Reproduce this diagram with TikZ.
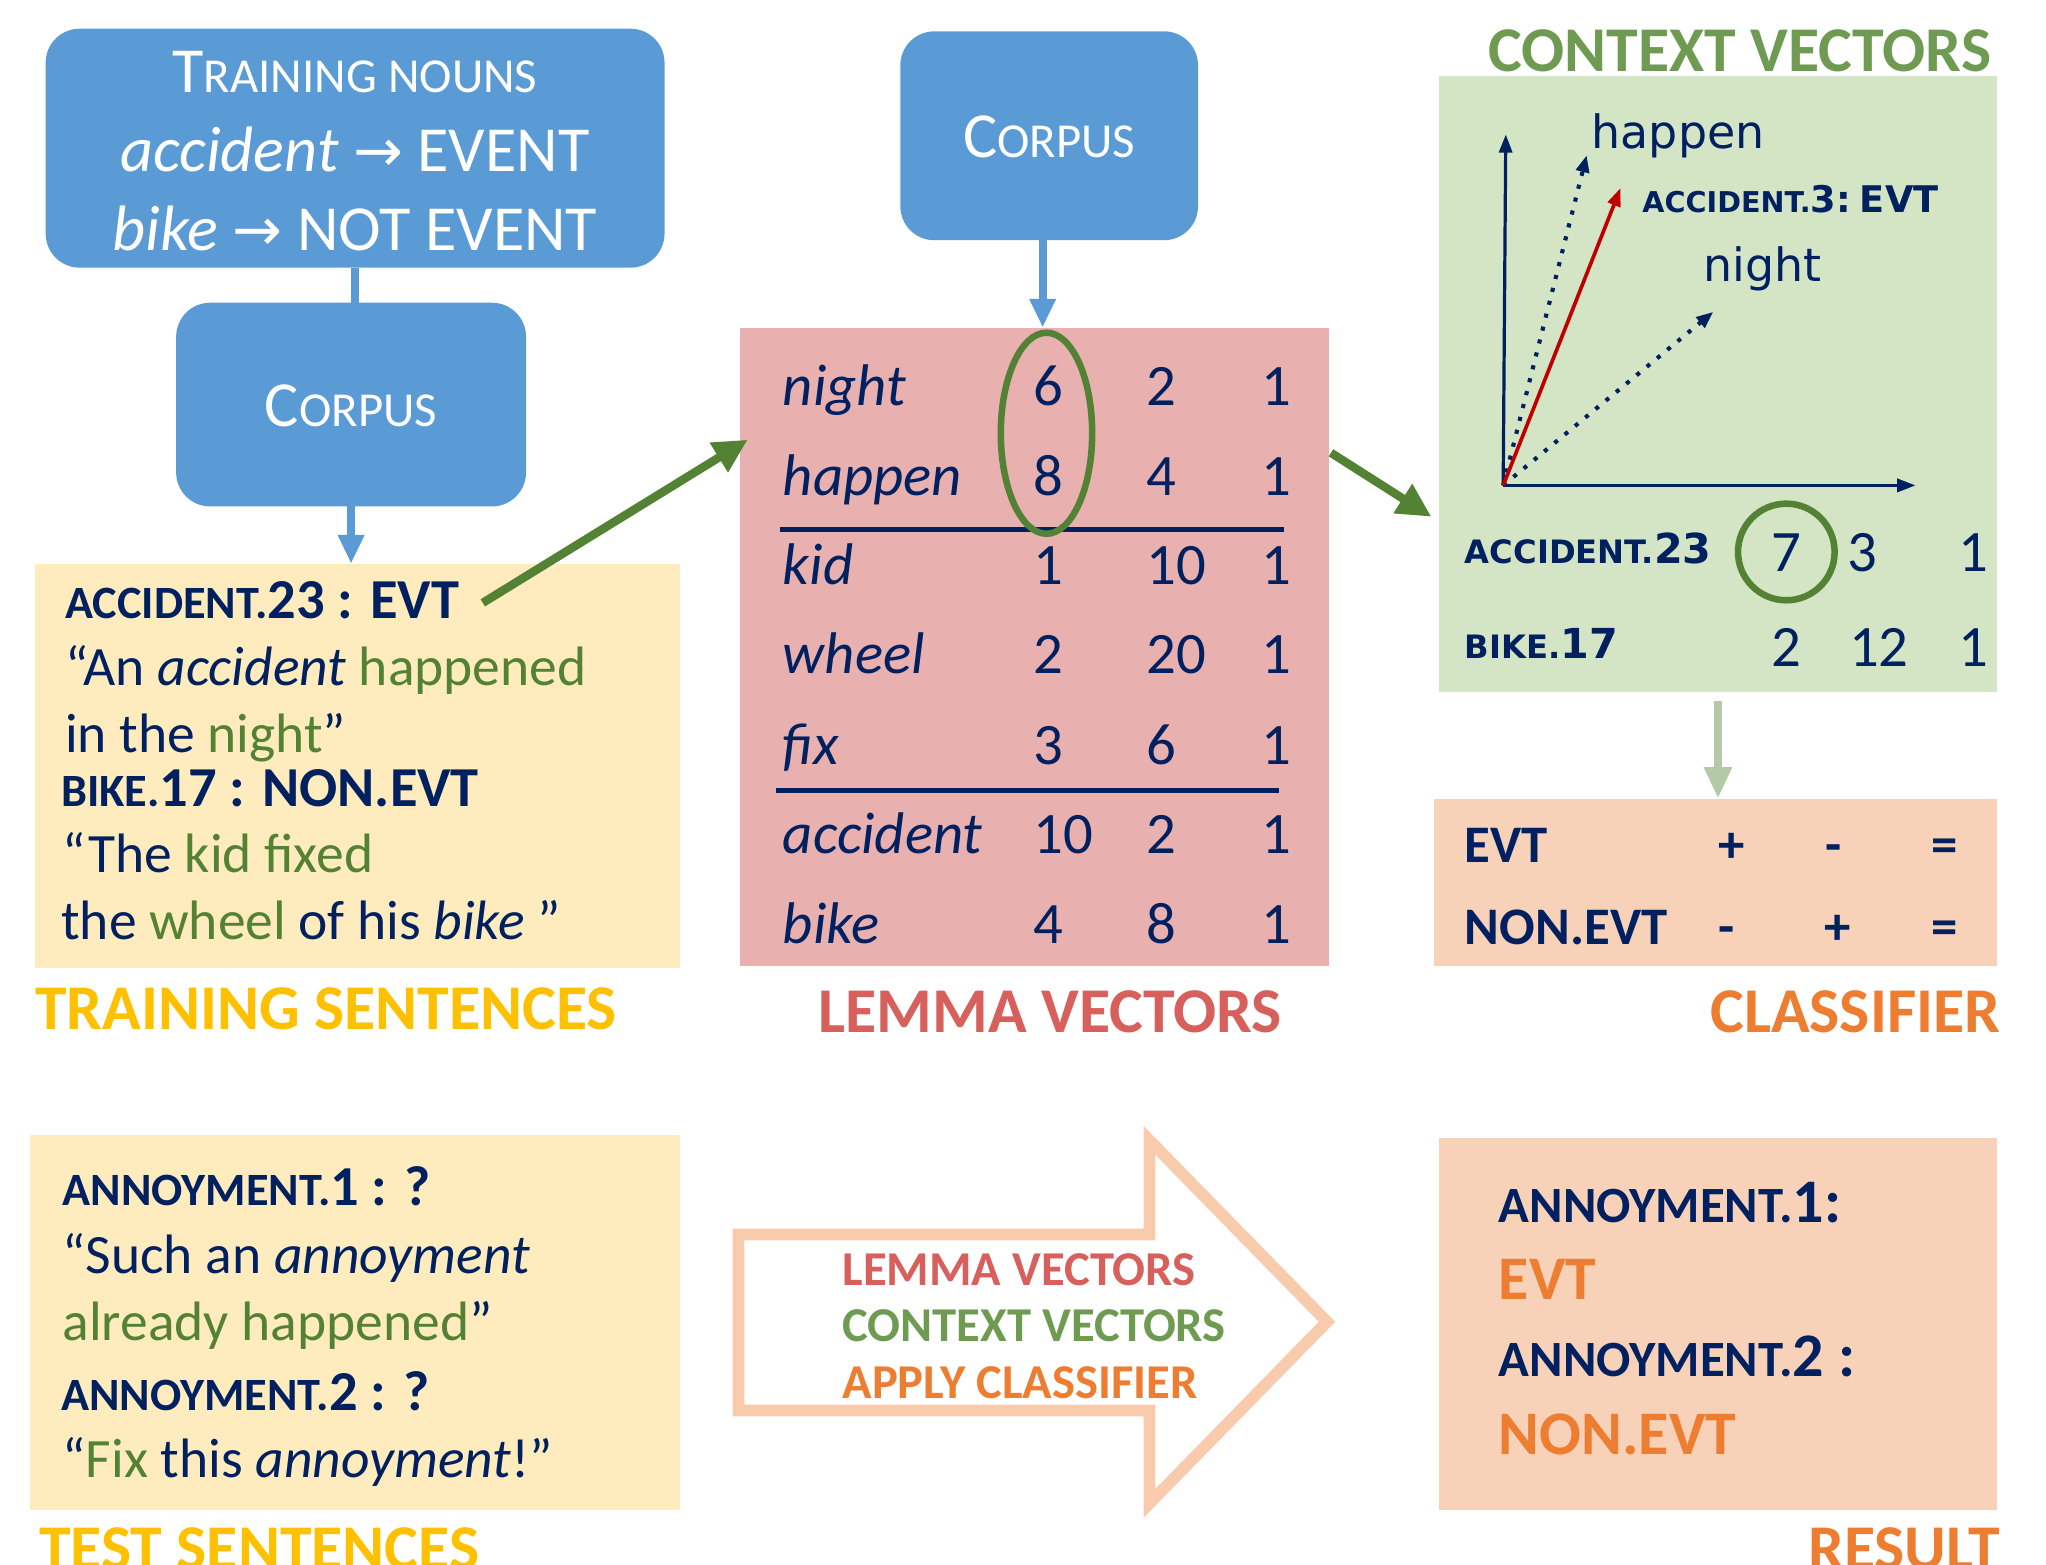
\documentclass[tikz,border=0pt]{standalone}
\usepackage{fontspec}
\usepackage{graphicx}
\setmainfont{Carlito}
\newfontfamily\dvs{DejaVu Sans}
\usetikzlibrary{arrows.meta}

\definecolor{boxblue}{HTML}{5B9BD5}
\definecolor{navy}{HTML}{002060}
\definecolor{tgreen}{HTML}{548235}
\definecolor{gold}{HTML}{FFC000}
\definecolor{lemred}{HTML}{D75F5C}
\definecolor{ctxgreen}{HTML}{6E9B51}
\definecolor{orangetxt}{HTML}{ED7D31}
\definecolor{yellowbox}{HTML}{FEEBBE}
\definecolor{pinkbox}{HTML}{E8B1B0}
\definecolor{greenbox}{HTML}{D4E5C6}
\definecolor{peachbox}{HTML}{F7D2B9}
\definecolor{arrowpeach}{HTML}{F8CBAD}
\definecolor{palearrow}{HTML}{B4C9A5}
\definecolor{redvec}{HTML}{C00000}

% small capitals made from scaled-down capitals
\newcommand\smc[1]{\scalebox{0.82}{#1}}
\newcommand\smt[1]{\scalebox{0.76}{#1}}

\begin{document}
\begin{tikzpicture}[
  x=0.01cm, y=-0.01cm,
  panel/.style={inner sep=0, outer sep=0, anchor=north west, draw=none},
  bluebox/.style={panel, fill=boxblue, rounded corners=0.26cm},
  txt/.style={inner sep=0, outer sep=0, anchor=base west, text=navy},
  body/.style={txt, font=\fontsize{12.1}{15}\selectfont},
  bodyb/.style={txt, font=\fontsize{12.3}{15}\selectfont\bfseries},
  lemtxt/.style={inner sep=0, outer sep=0, text=navy, font=\fontsize{12.8}{15}\selectfont},
  heading/.style={inner sep=0, outer sep=0, font=\fontsize{13.9}{16}\selectfont\bfseries},
  bluelink/.style={draw=boxblue, line width=0.06cm},
  bluearrow/.style={draw=boxblue, line width=0.06cm, -{Triangle[length=0.22cm, width=0.19cm]}},
  greenarrow/.style={draw=tgreen, line width=0.065cm, -{Triangle[length=0.26cm, width=0.25cm]}},
  palearrow/.style={draw=palearrow, line width=0.06cm, -{Triangle[length=0.24cm, width=0.2cm]}},
  axis/.style={draw=navy, line width=0.7pt, -{Triangle[length=0.14cm, width=0.1cm]}},
  dotvec/.style={draw=navy, line width=0.9pt, dotted, -{Triangle[length=0.13cm, width=0.1cm]}},
  redarrow/.style={draw=redvec, line width=0.8pt, -{Triangle[length=0.14cm, width=0.1cm]}},
  ring/.style={draw=tgreen, line width=0.05cm},
  rule/.style={draw=navy, line width=1pt},
]
\useasboundingbox (0,0) rectangle (1568,1199);

% ---------- training nouns and first corpus ----------
\node[bluebox, minimum width=4.74cm, minimum height=1.83cm] (tn) at (35,22) {};
\node[inner sep=0, text=white, align=center, font=\fontsize{14}{17.2}\selectfont] (tntext) at (272,116)
  {T\smt{RAINING NOUNS}\\ \textit{accident} {\dvs\fontsize{13}{15}\selectfont →} EVENT\\ \textit{bike} {\dvs\fontsize{13}{15}\selectfont →} NOT EVENT};

\node[bluebox, minimum width=2.68cm, minimum height=1.56cm] (c1) at (135,232) {};
\node[inner sep=0, text=white, font=\fontsize{14}{17}\selectfont] (c1text) at (269,311) {C\smt{ORPUS}};

% ---------- training sentences ----------
\node[panel, fill=yellowbox, minimum width=4.94cm, minimum height=3.10cm] (tr) at (27,432) {};
\node[bodyb] (tr1) at (50,474) {\smc{ACCIDENT.}23 : EVT};
\node[body] (tr2) at (50,525) {“An \textit{accident} \textcolor{tgreen}{happened}};
\node[body] (tr3) at (50,577) {in the \textcolor{tgreen}{night}”};
\node[bodyb] (tr4) at (47,618) {\smc{BIKE.}17 : NON.EVT};
\node[body] (tr5) at (48,669) {“The \textcolor{tgreen}{kid fixed}};
\node[body] (tr6) at (47,720) {the \textcolor{tgreen}{wheel} of his \textit{bike} ”};
\node[heading, text=gold, anchor=base west] (trtitle) at (27,789) {TRAINING SENTENCES};

\draw[bluelink] (tn.south) -- (tn.south |- c1.north);
\draw[bluearrow] (c1.south) -- (c1.south |- tr.north);

% ---------- second corpus and lemma vectors ----------
\node[bluebox, minimum width=2.28cm, minimum height=1.60cm] (c2) at (690,24) {};
\node[inner sep=0, text=white, font=\fontsize{14}{17}\selectfont] (c2text) at (804,105) {C\smt{ORPUS}};

\node[panel, fill=pinkbox, minimum width=4.51cm, minimum height=4.89cm] (lem) at (567,251) {};
\draw[bluearrow] ([xshift=-0.05cm]c2.south) -- ([xshift=-0.05cm]c2.south |- lem.north);

\foreach \w/\a/\b/\c/\yy [count=\i] in {night/6/2/1/311, happen/8/4/1/380, kid/1/10/1/448, wheel/2/20/1/516, fix/3/6/1/586, accident/10/2/1/654, bike/4/8/1/723}{
  \node[lemtxt, anchor=base west] (lw\i) at (600,\yy) {\textit{\w}};
  \node[lemtxt, anchor=base west] (la\i) at (792,\yy) {\a};
  \node[lemtxt, anchor=base west] (lb\i) at (879,\yy) {\b};
  \node[lemtxt, anchor=base west] (lc\i) at (967,\yy) {\c};
}
\draw[rule] (598,406) -- (984,406);
\draw[rule] (595,606) -- (980,606);
\draw[ring] (802,332) ellipse [x radius=0.35cm, y radius=0.77cm];
\node[heading, text=lemred, anchor=base] (lemtitle) at (805,791) {LEMMA VECTORS};

\coordinate (g1s) at (370,462);
\coordinate (g1e) at (573,337);
\draw[greenarrow] (g1s) -- (g1e);

% ---------- context vectors ----------
\node[panel, fill=greenbox, minimum width=4.27cm, minimum height=4.72cm] (ctx) at (1103,58) {};
\node[heading, text=ctxgreen, anchor=base east] (ctxtitle) at (1526,55) {CONTEXT VECTORS};

\coordinate (o) at (1152,372);
\coordinate (yend) at (1154,103);
\coordinate (xend) at (1468,372);
\coordinate (vhap) at (1216,119);
\coordinate (vacc) at (1242,144);
\coordinate (vnig) at (1313,239);
\draw[axis] (o) -- (yend);
\draw[axis] (o) -- (xend);
\draw[dotvec] (o) -- (vhap);
\draw[dotvec] (o) -- (vnig);
\draw[redarrow] (o) -- (vacc);
\node[inner sep=0, text=navy, font=\dvs\fontsize{10}{12}\selectfont] (lhap) at (1286,104) {happen};
\node[inner sep=0, text=navy, font=\dvs\fontsize{10}{12}\selectfont] (lnig) at (1351,206) {night};
\node[inner sep=0, anchor=base west, text=navy, font=\dvs\bfseries\fontsize{8}{10}\selectfont] (lacc) at (1258,163) {\scalebox{0.78}{ACCIDENT.}3:\hspace{0.25em}EVT};

\node[inner sep=0, anchor=base west, text=navy, font=\dvs\bfseries\fontsize{9}{11}\selectfont] (cr1) at (1122,432) {\scalebox{0.78}{ACCIDENT.}23};
\node[inner sep=0, anchor=base west, text=navy, font=\dvs\bfseries\fontsize{9}{11}\selectfont] (cr2) at (1122,505) {\scalebox{0.78}{BIKE.}17};
\node[lemtxt, anchor=base] (cn1) at (1369,438) {7};
\node[lemtxt, anchor=base] (cn2) at (1427,438) {3};
\node[lemtxt, anchor=base] (cn3) at (1512,438) {1};
\node[lemtxt, anchor=base] (cn4) at (1369,511) {2};
\node[lemtxt, anchor=base] (cn5) at (1440,511) {12};
\node[lemtxt, anchor=base] (cn6) at (1512,511) {1};
\draw[ring] (1369,423) circle [radius=0.37cm];

\coordinate (g2s) at (1020,347);
\coordinate (g2e) at (1097,396);
\draw[greenarrow] (g2s) -- (g2e);

% ---------- classifier ----------
\node[panel, fill=peachbox, minimum width=4.31cm, minimum height=1.28cm] (cls) at (1099,612) {};
\draw[palearrow] ([yshift=-0.07cm]ctx.south) -- (ctx.south |- cls.north);
\tikzset{clst/.style={inner sep=0, text=navy, font=\fontsize{11.5}{13}\selectfont\bfseries}}
\node[clst, anchor=base west] (k1) at (1122,661) {EVT};
\node[clst, anchor=base] (k2) at (1327,661) {+};
\node[clst, anchor=base] (k3) at (1405,661) {-};
\node[clst, anchor=base] (k4) at (1490,661) {=};
\node[clst, anchor=base west] (k5) at (1122,724) {NON.EVT};
\node[clst, anchor=base] (k6) at (1323,724) {-};
\node[clst, anchor=base] (k7) at (1408,724) {+};
\node[clst, anchor=base] (k8) at (1490,724) {=};
\node[heading, text=orangetxt, anchor=base east] (clstitle) at (1533,791) {CLASSIFIER};

% ---------- test sentences ----------
\node[panel, fill=yellowbox, minimum width=4.98cm, minimum height=2.87cm] (tst) at (23,870) {};
\node[bodyb] (ts1) at (48,924) {\smc{ANNOYMENT.}1 : ?};
\node[body] (ts2) at (48,976) {“Such an \textit{annoyment}};
\node[body] (ts3) at (48,1027) {\textcolor{tgreen}{already happened}”};
\node[bodyb] (ts4) at (47,1081) {\smc{ANNOYMENT.}2 : ?};
\node[body] (ts5) at (48,1132) {“\textcolor{tgreen}{Fix} this \textit{annoyment}!”};
\node[heading, text=gold, anchor=base west] (tsttitle) at (30,1203) {TEST SENTENCES};

% ---------- pipeline arrow ----------
\draw[draw=arrowpeach, line width=0.09cm, line join=miter]
  (566,946) -- (881,946) -- (881,874) -- (1017,1013) -- (881,1152) -- (881,1081) -- (566,1081) -- cycle;
\tikzset{steptxt/.style={inner sep=0, anchor=base west, font=\fontsize{10.6}{12}\selectfont\bfseries}}
\node[steptxt, text=lemred] (s1) at (645,985) {LEMMA VECTORS};
\node[steptxt, text=ctxgreen] (s2) at (645,1028) {CONTEXT VECTORS};
\node[steptxt, text=orangetxt] (s3) at (645,1072) {APPLY CLASSIFIER};

% ---------- result ----------
\node[panel, fill=peachbox, minimum width=4.27cm, minimum height=2.85cm] (res) at (1103,872) {};
\tikzset{rest/.style={inner sep=0, anchor=base west, font=\fontsize{13.5}{16}\selectfont\bfseries}}
\node[rest, text=navy] (r1) at (1148,937) {\smc{ANNOYMENT.}1:};
\node[rest, text=orangetxt] (r2) at (1148,996) {EVT};
\node[rest, text=navy] (r3) at (1148,1055) {\smc{ANNOYMENT.}2 :};
\node[rest, text=orangetxt] (r4) at (1148,1115) {NON.EVT};
\node[heading, text=orangetxt, anchor=base east] (restitle) at (1533,1203) {RESULT};
\end{tikzpicture}
\end{document}
